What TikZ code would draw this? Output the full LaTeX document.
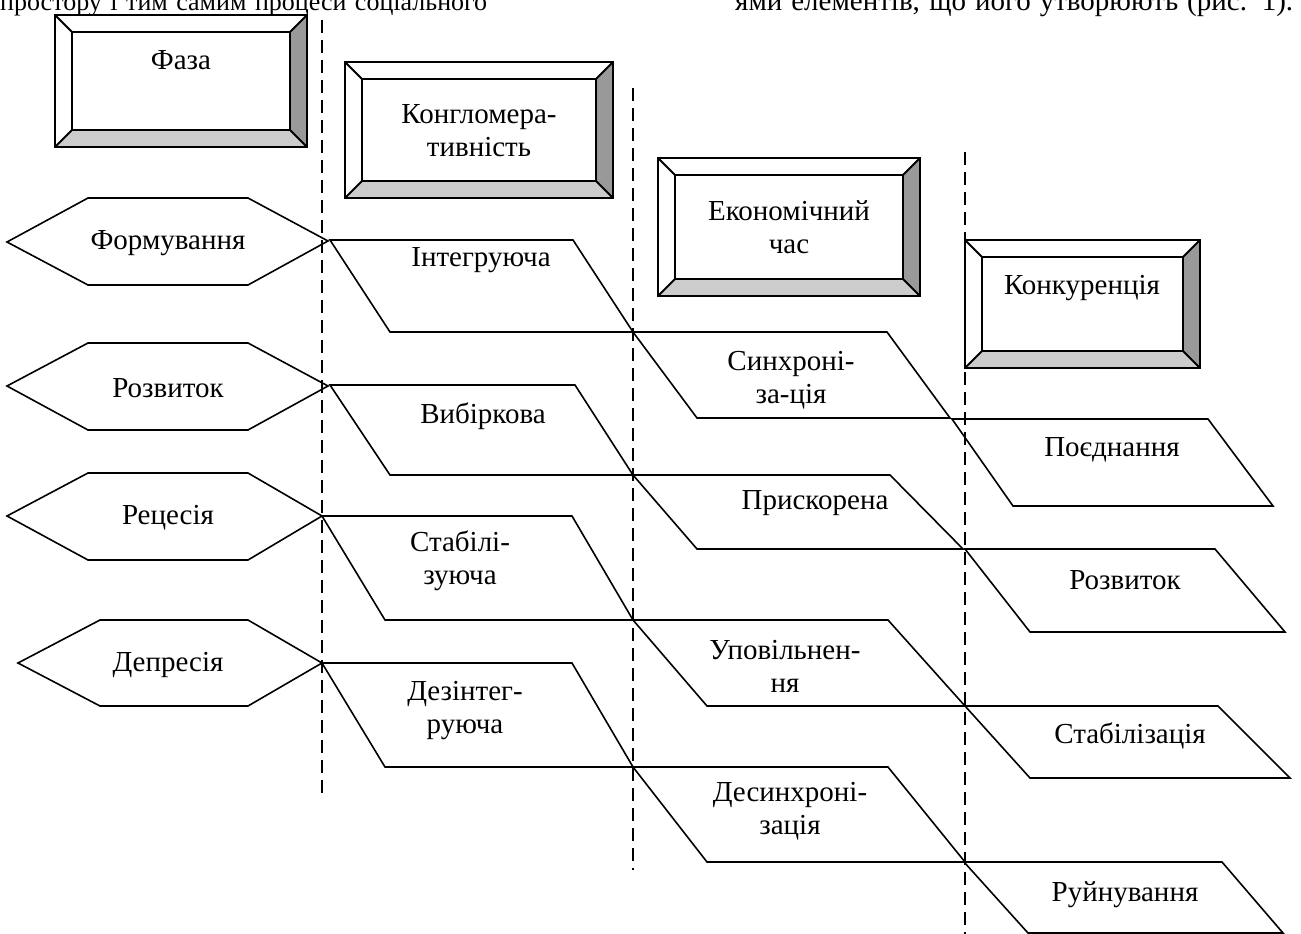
\documentclass[tikz,border=0pt]{standalone}
\usepackage{fontspec}
\setmainfont{Liberation Serif}
\usetikzlibrary{calc}
\newcommand{\bevbox}[5]{%
  \coordinate (#1-a) at (#2,#3);
  \coordinate (#1-b) at (#4,#3);
  \coordinate (#1-c) at (#4,#5);
  \coordinate (#1-d) at (#2,#5);
  \coordinate (#1-ia) at (#2+17,#3+17);
  \coordinate (#1-ib) at (#4-17,#3+17);
  \coordinate (#1-ic) at (#4-17,#5-17);
  \coordinate (#1-id) at (#2+17,#5-17);
  \fill[white] (#1-a) rectangle (#1-c);
  \fill[bevdark] (#1-b)--(#1-c)--(#1-ic)--(#1-ib)--cycle;
  \fill[bevlight] (#1-c)--(#1-d)--(#1-id)--(#1-ic)--cycle;
  \draw[shapeline] (#1-a) rectangle (#1-c);
  \draw[shapeline] (#1-ia) rectangle (#1-ic);
  \draw[shapeline] (#1-a)--(#1-ia) (#1-b)--(#1-ib) (#1-c)--(#1-ic) (#1-d)--(#1-id);
}
\definecolor{bevdark}{RGB}{153,153,153}
\definecolor{bevlight}{RGB}{204,204,204}
\begin{document}
\begin{tikzpicture}[x=1pt,y=-1pt,
  shapeline/.style={draw=black,line width=1.8pt,line join=miter},
  edge/.style={draw=black,line width=1.6pt,line join=miter},
  divider/.style={draw=black,line width=1.6pt,dash pattern=on 13pt off 7pt},
  lbl/.style={font=\fontsize{29}{33}\selectfont,align=center,inner sep=0pt},
  bodyl/.style={font=\fontsize{26}{30}\selectfont,inner sep=0pt,anchor=base west},
  bodyr/.style={font=\fontsize{29}{33}\selectfont,inner sep=0pt,anchor=base west}]
\useasboundingbox (0,0) rectangle (1301,934);

% running text cut at the top
\node[bodyl] (t1) at (0,11) {\makebox[487pt][s]{простору і тим самим процеси соціального}};
\node[bodyr] (t2) at (735,11) {\makebox[558pt][s]{ями елементів, що його утворюють (рис. 1).}};

% dashed dividers
\coordinate (d1a) at (322,20);  \coordinate (d1b) at (322,800);
\coordinate (d2a) at (633,88);  \coordinate (d2b) at (633,870);
\coordinate (d3a) at (965,152); \coordinate (d3b) at (965,934);
\draw[divider] (d1a)--(d1b);
\draw[divider] (d2a)--(d2b);
\draw[divider] (d3a)--(d3b);

% header boxes
\bevbox{b1}{55}{15}{307}{147}
\bevbox{b2}{345}{62}{613}{198}
\bevbox{b3}{658}{158}{920}{296}
\bevbox{b4}{965}{240}{1200}{368}
\node[lbl] (n1) at (181,60) {Фаза};
\node[lbl] (n2) at (479,131) {Конгломера-\\тивність};
\node[lbl] (n3) at (789,227) {Економічний\\час};
\node[lbl] (n4) at (1082,288) {Конкуренція};

% hexagons
\draw[edge] (7,242)--(88,198)--(248,198)--(328,241)--(248,285)--(88,285)--cycle;
\draw[edge] (7,386)--(88,343)--(248,343)--(328,386)--(248,430)--(88,430)--cycle;
\draw[edge] (7,516)--(88,473)--(248,473)--(322,516)--(248,560)--(88,560)--cycle;
\draw[edge] (18,663)--(100,620)--(248,620)--(322,663)--(248,706)--(100,706)--cycle;
\node[lbl] (h1) at (168,243) {Формування};
\node[lbl] (h2) at (168,388) {Розвиток};
\node[lbl] (h3) at (168,518) {Рецесія};
\node[lbl] (h4) at (168,665) {Депресія};

% row 1
\draw[edge] (330,240)--(573,240)--(633,332)--(390,332)--cycle;
\draw[edge] (633,332)--(887,332)--(950,418)--(697,418)--cycle;
\draw[edge] (952,419)--(1208,419)--(1273,506)--(1013,506)--cycle;
\node[lbl] (p11) at (481,260) {Інтегруюча};
\node[lbl] (p12) at (791,380) {Синхроні-\\за-ція};
\node[lbl] (p13) at (1112,450) {Поєднання};

% row 2
\draw[edge] (330,385)--(575,385)--(633,475)--(390,475)--cycle;
\draw[edge] (633,475)--(890,475)--(963,549)--(697,549)--cycle;
\draw[edge] (965,549)--(1215,549)--(1285,632)--(1030,632)--cycle;
\node[lbl] (p21) at (483,416) {Вибіркова};
\node[lbl] (p22) at (815,503) {Прискорена};
\node[lbl] (p23) at (1125,580) {Розвиток};

% row 3
\draw[edge] (322,516)--(572,516)--(633,620)--(385,620)--cycle;
\draw[edge] (633,620)--(888,620)--(965,706)--(707,706)--cycle;
\draw[edge] (965,706)--(1218,706)--(1290,778)--(1030,778)--cycle;
\node[lbl] (p31) at (460,561) {Стабілі-\\зуюча};
\node[lbl] (p32) at (785,666) {Уповільнен-\\ня};
\node[lbl] (p33) at (1130,736) {Стабілізація};

% row 4
\draw[edge] (322,663)--(572,663)--(633,767)--(385,767)--cycle;
\draw[edge] (633,767)--(888,767)--(965,862)--(707,862)--cycle;
\draw[edge] (964,862)--(1222,862)--(1283,933)--(1028,933)--cycle;
\node[lbl] (p41) at (465,711) {Дезінтег-\\руюча};
\node[lbl] (p42) at (790,811) {Десинхроні-\\зація};
\node[lbl] (p43) at (1125,895) {Руйнування};
\end{tikzpicture}
\end{document}
